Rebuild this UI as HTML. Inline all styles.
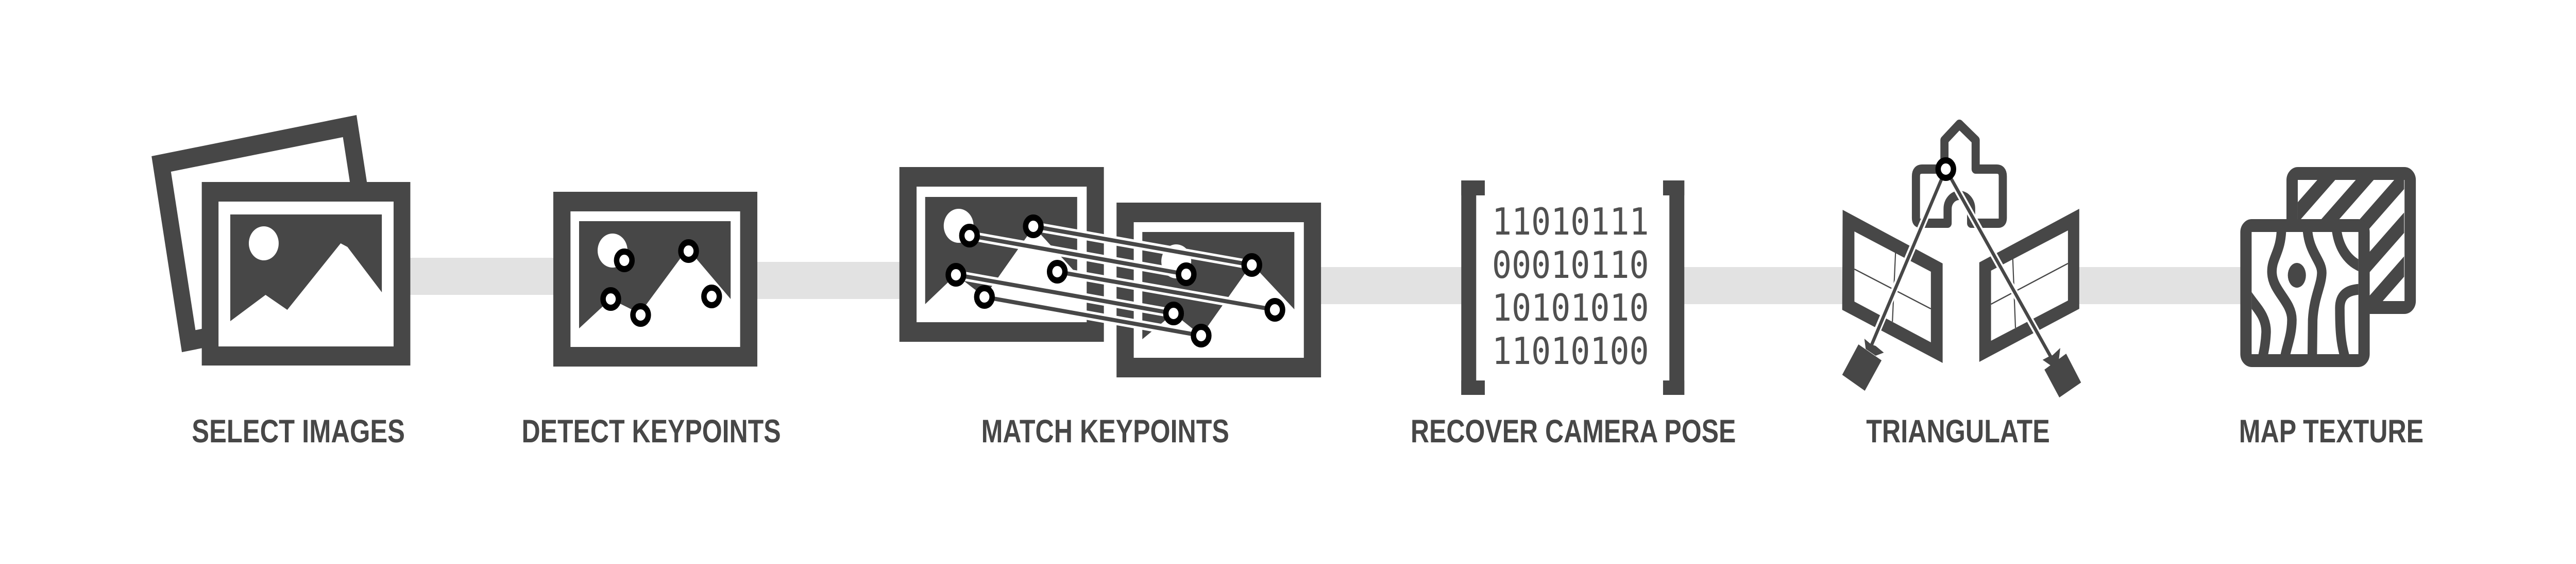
<!DOCTYPE html>
<html><head><meta charset="utf-8"><style>
html,body{margin:0;padding:0;background:#fff;overflow:hidden;width:100%;height:100%;}
svg{display:block;width:100vw;height:100vh;}
</style></head><body>
<svg viewBox="0 0 5694 1094" preserveAspectRatio="none" xmlns="http://www.w3.org/2000/svg">
<defs>
<clipPath id="backIn"><rect x="5079" y="349" width="235" height="235"/></clipPath>
<clipPath id="frontIn"><rect x="4977" y="450" width="236" height="237"/></clipPath>
</defs>
<rect width="5694" height="1094" fill="#fff"/>

<!-- connector bar segments -->
<g fill="#e2e2e2">
<rect x="905" y="500" width="320" height="72"/>
<rect x="1672" y="508" width="318" height="72"/>
<rect x="2919" y="518" width="313" height="72"/>
<rect x="3721" y="518" width="354" height="72"/>
<rect x="4594" y="518" width="360" height="72"/>
</g>

<!-- SELECT IMAGES icon -->
<g transform="translate(335,303) rotate(-10)">
<rect width="460" height="386" fill="#474747"/>
<rect x="37" y="37" width="386" height="312" fill="#fff"/>
</g>
<rect x="446" y="353" width="461" height="356" fill="#474747"/>
<rect x="483" y="391" width="387" height="281" fill="#fff"/>
<path d="M509,416 H844 V567 L768,479 L753,472 L635,601 L587,572 L509,623 Z" fill="#474747"/>
<circle cx="583" cy="472" r="33" fill="#fff"/>

<!-- DETECT KEYPOINTS icon -->
<rect x="1223" y="372" width="451" height="339" fill="#474747"/>
<rect x="1261" y="410" width="375" height="263" fill="#fff"/>
<path d="M1280,429 H1615 V580 L1520,482 L1414,608 L1350,580 L1280,637 Z" fill="#474747"/>
<circle cx="1354" cy="486" r="33" fill="#fff"/>
<g fill="#fff" stroke="#000" stroke-width="12">
<circle cx="1380" cy="505" r="17"/>
<circle cx="1522" cy="487" r="17"/>
<circle cx="1350" cy="580" r="17"/>
<circle cx="1416" cy="611" r="17"/>
<circle cx="1573" cy="575" r="17"/>
</g>

<!-- MATCH KEYPOINTS icon -->
<rect x="1988" y="324" width="452" height="339" fill="#474747"/>
<rect x="2026" y="362" width="376" height="263" fill="#fff"/>
<path d="M2045,382 H2381 V532 L2285,440 L2176,576 L2113,533 L2045,590 Z" fill="#474747"/>
<circle cx="2119" cy="438" r="33" fill="#fff"/>
<rect x="2468" y="393" width="452" height="339" fill="#474747"/>
<rect x="2506" y="431" width="376" height="263" fill="#fff"/>
<path d="M2525,450 H2861 V600 L2767,512 L2655,651 L2594,608 L2525,658 Z" fill="#474747"/>
<circle cx="2600" cy="507" r="33" fill="#fff"/>
<g stroke-linecap="butt">
<g stroke="#fff" stroke-width="18">
<line x1="2143" y1="457" x2="2622" y2="532"/>
<line x1="2284" y1="439" x2="2767" y2="514"/>
<line x1="2113" y1="533" x2="2594" y2="608"/>
<line x1="2176" y1="576" x2="2655" y2="651"/>
<line x1="2337" y1="527" x2="2818" y2="601"/>
</g>
<g stroke="#474747" stroke-width="8">
<line x1="2143" y1="457" x2="2622" y2="532"/>
<line x1="2284" y1="439" x2="2767" y2="514"/>
<line x1="2113" y1="533" x2="2594" y2="608"/>
<line x1="2176" y1="576" x2="2655" y2="651"/>
<line x1="2337" y1="527" x2="2818" y2="601"/>
</g>
</g>
<g fill="#fff" stroke="#000" stroke-width="12">
<circle cx="2143" cy="457" r="17"/>
<circle cx="2284" cy="439" r="17"/>
<circle cx="2113" cy="533" r="17"/>
<circle cx="2176" cy="576" r="17"/>
<circle cx="2337" cy="527" r="17"/>
<circle cx="2622" cy="532" r="17"/>
<circle cx="2767" cy="514" r="17"/>
<circle cx="2594" cy="608" r="17"/>
<circle cx="2655" cy="651" r="17"/>
<circle cx="2818" cy="601" r="17"/>
</g>

<!-- RECOVER CAMERA POSE icon -->
<g fill="#474747">
<rect x="3230" y="350" width="33" height="416"/>
<rect x="3230" y="350" width="52" height="29"/>
<rect x="3230" y="738" width="52" height="28"/>
<rect x="3690" y="350" width="33" height="416"/>
<rect x="3676" y="350" width="47" height="29"/>
<rect x="3676" y="738" width="47" height="28"/>
</g>
<g font-family="'DejaVu Sans Mono', 'Liberation Mono', monospace" font-size="72" fill="#505050">
<text x="3298" y="455">11010111</text>
<text x="3298" y="539">00010110</text>
<text x="3298" y="622">10101010</text>
<text x="3298" y="706">11010100</text>
</g>

<!-- TRIANGULATE icon -->
<path fill-rule="evenodd" fill="#474747" d="M4073,407 L4294,511 L4294,704 L4072,601 Z M4099,449 L4268,527 L4268,664 L4099,585 Z"/>
<path fill-rule="evenodd" fill="#474747" d="M4375,509 L4596,405 L4596,599 L4375,702 Z M4401,525 L4571,447 L4571,583 L4401,661 Z"/>
<g stroke="#474747" stroke-width="2.5">
<line x1="4099" y1="522" x2="4268" y2="599"/>
<line x1="4190" y1="488" x2="4183" y2="624"/>
<line x1="4401" y1="590" x2="4571" y2="511"/>
<line x1="4449" y1="501" x2="4455" y2="636"/>
</g>
<path fill="none" stroke="#474747" stroke-width="18" stroke-linejoin="round" d="M4305,433 H4245 Q4235,433 4235,423 V342 Q4235,328 4249,328 H4298 V272 L4331,241 L4367,272 V328 H4413 Q4427,328 4427,342 V423 Q4427,433 4417,433 H4357 V405 A26,26 0 0 0 4305,405 Z"/>
<g stroke="#fff" stroke-width="15">
<line x1="4301" y1="328" x2="4140" y2="661"/>
<line x1="4301" y1="328" x2="4527" y2="683"/>
</g>
<g stroke="#474747" stroke-width="7">
<line x1="4301" y1="328" x2="4136" y2="671"/>
<line x1="4301" y1="328" x2="4533" y2="692"/>
</g>
<g fill="#474747">
<polygon points="4108,668 4159,699 4122,758 4072,727"/>
<polygon points="4124,677 4121,657 4136,668 4146,671 4164,684 4146,690"/>
<polygon points="4519,717 4567,686 4600,742 4552,771"/>
<polygon points="4533,709 4515,698 4530,691 4537,689 4554,675 4551,697"/>
</g>
<circle cx="4301" cy="328" r="17" fill="#fff" stroke="#000" stroke-width="12"/>

<!-- MAP TEXTURE icon -->
<rect x="5066.5" y="336.5" width="261" height="260" rx="13" fill="#fff" stroke="#474747" stroke-width="25"/>
<g clip-path="url(#backIn)" stroke="#474747" stroke-width="28">
<line x1="5000" y1="491" x2="5300" y2="191"/>
<line x1="5000" y1="576" x2="5400" y2="176"/>
<line x1="5000" y1="661" x2="5450" y2="211"/>
<line x1="5050" y1="696" x2="5450" y2="296"/>
<line x1="5130" y1="701" x2="5450" y2="381"/>
</g>
<rect x="4964.5" y="437.5" width="261" height="262" rx="13" fill="#fff" stroke="#474747" stroke-width="25"/>
<g clip-path="url(#frontIn)" fill="none" stroke="#474747" stroke-width="21">
<path d="M4968,572 C4985,595 5010,612 5009,645 C5008,665 5005,678 5001,695"/>
<path d="M5043,440 C5043,490 5020,500 5022,530 C5024,565 5066,585 5066,620 C5066,650 5055,670 5050,695"/>
<path d="M5100,440 C5102,490 5133,505 5132,530 C5131,555 5115,575 5112,620 L5111,695"/>
<path d="M5164,440 C5168,480 5190,508 5222,518"/>
<path d="M5222,561 C5185,561 5171,575 5172,600 C5172,640 5174,665 5184,695"/>
</g>
<ellipse cx="5077" cy="534" rx="20" ry="24" fill="#474747"/>

<!-- labels -->
<g font-family="'Liberation Sans', Arial, sans-serif" font-weight="bold" font-size="63" fill="#474747">
<text x="424" y="858" textLength="471" lengthAdjust="spacingAndGlyphs">SELECT IMAGES</text>
<text x="1153" y="858" textLength="573" lengthAdjust="spacingAndGlyphs">DETECT KEYPOINTS</text>
<text x="2169" y="858" textLength="548" lengthAdjust="spacingAndGlyphs">MATCH KEYPOINTS</text>
<text x="3118" y="858" textLength="719" lengthAdjust="spacingAndGlyphs">RECOVER CAMERA POSE</text>
<text x="4125" y="858" textLength="406" lengthAdjust="spacingAndGlyphs">TRIANGULATE</text>
<text x="4949" y="858" textLength="408" lengthAdjust="spacingAndGlyphs">MAP TEXTURE</text>
</g>
</svg>
</body></html>
